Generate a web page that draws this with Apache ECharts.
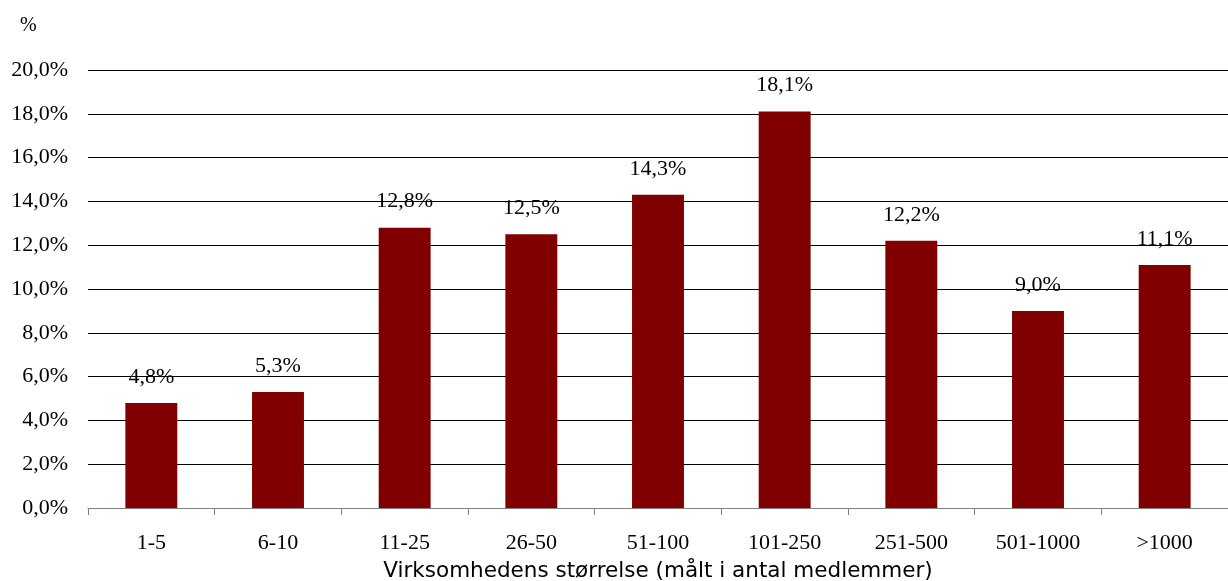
<!DOCTYPE html>
<html>
<head>
<meta charset="utf-8">
<script src="https://cdn.jsdelivr.net/npm/echarts@6/dist/echarts.min.js"></script>
<style>
  html, body { margin: 0; padding: 0; background: #fff; }
  #chart { width: 1228px; height: 581px; }
</style>
</head>
<body>
<div id="chart"></div>
<script>
// Share of respondents by company size (number of members)
const categories = ['1-5', '6-10', '11-25', '26-50', '51-100', '101-250', '251-500', '501-1000', '>1000'];
const shares = [4.8, 5.3, 12.8, 12.5, 14.3, 18.1, 12.2, 9.0, 11.1];
const yTicks = [0, 2, 4, 6, 8, 10, 12, 14, 16, 18, 20];

const fmt = v => v.toFixed(1).replace('.', ',') + '%';
const serif = '"Liberation Serif", "Times New Roman", serif';

const chart = echarts.init(document.getElementById('chart'));
chart.setOption({
  animation: false,
  backgroundColor: '#fff',
  grid: { left: 88, right: 0, top: 70, bottom: 73, containLabel: false, outerBoundsMode: 'none' },
  graphic: [{
    type: 'text', left: 20, top: 16,
    style: { text: '%', font: '20px ' + serif, fill: '#000' }
  }],
  xAxis: {
    type: 'category',
    data: categories,
    name: 'Virksomhedens størrelse (målt i antal medlemmer)',
    nameLocation: 'middle',
    nameGap: 52,
    nameTextStyle: { fontFamily: '"DejaVu Sans", Verdana, sans-serif', fontSize: 21.5, color: '#000' },
    axisLine: { lineStyle: { color: '#808080', width: 1 } },
    axisTick: { show: true, length: 7, lineStyle: { color: '#808080' } },
    axisLabel: { fontFamily: serif, fontSize: 22, color: '#000', margin: 24 },
    splitLine: { show: false }
  },
  yAxis: {
    type: 'value',
    min: yTicks[0],
    max: yTicks[yTicks.length - 1],
    interval: 2,
    axisLine: { show: false },
    axisTick: { show: false },
    axisLabel: { fontFamily: serif, fontSize: 22, color: '#000', margin: 20, formatter: fmt },
    splitLine: { lineStyle: { color: '#000', width: 1 } }
  },
  series: [{
    type: 'bar',
    data: shares,
    barWidth: '41%',
    itemStyle: { color: '#800000' },
    label: {
      show: true,
      position: 'top',
      distance: 15,
      fontFamily: serif,
      fontSize: 22,
      color: '#000',
      formatter: p => fmt(p.value)
    }
  }]
});
</script>
</body>
</html>
